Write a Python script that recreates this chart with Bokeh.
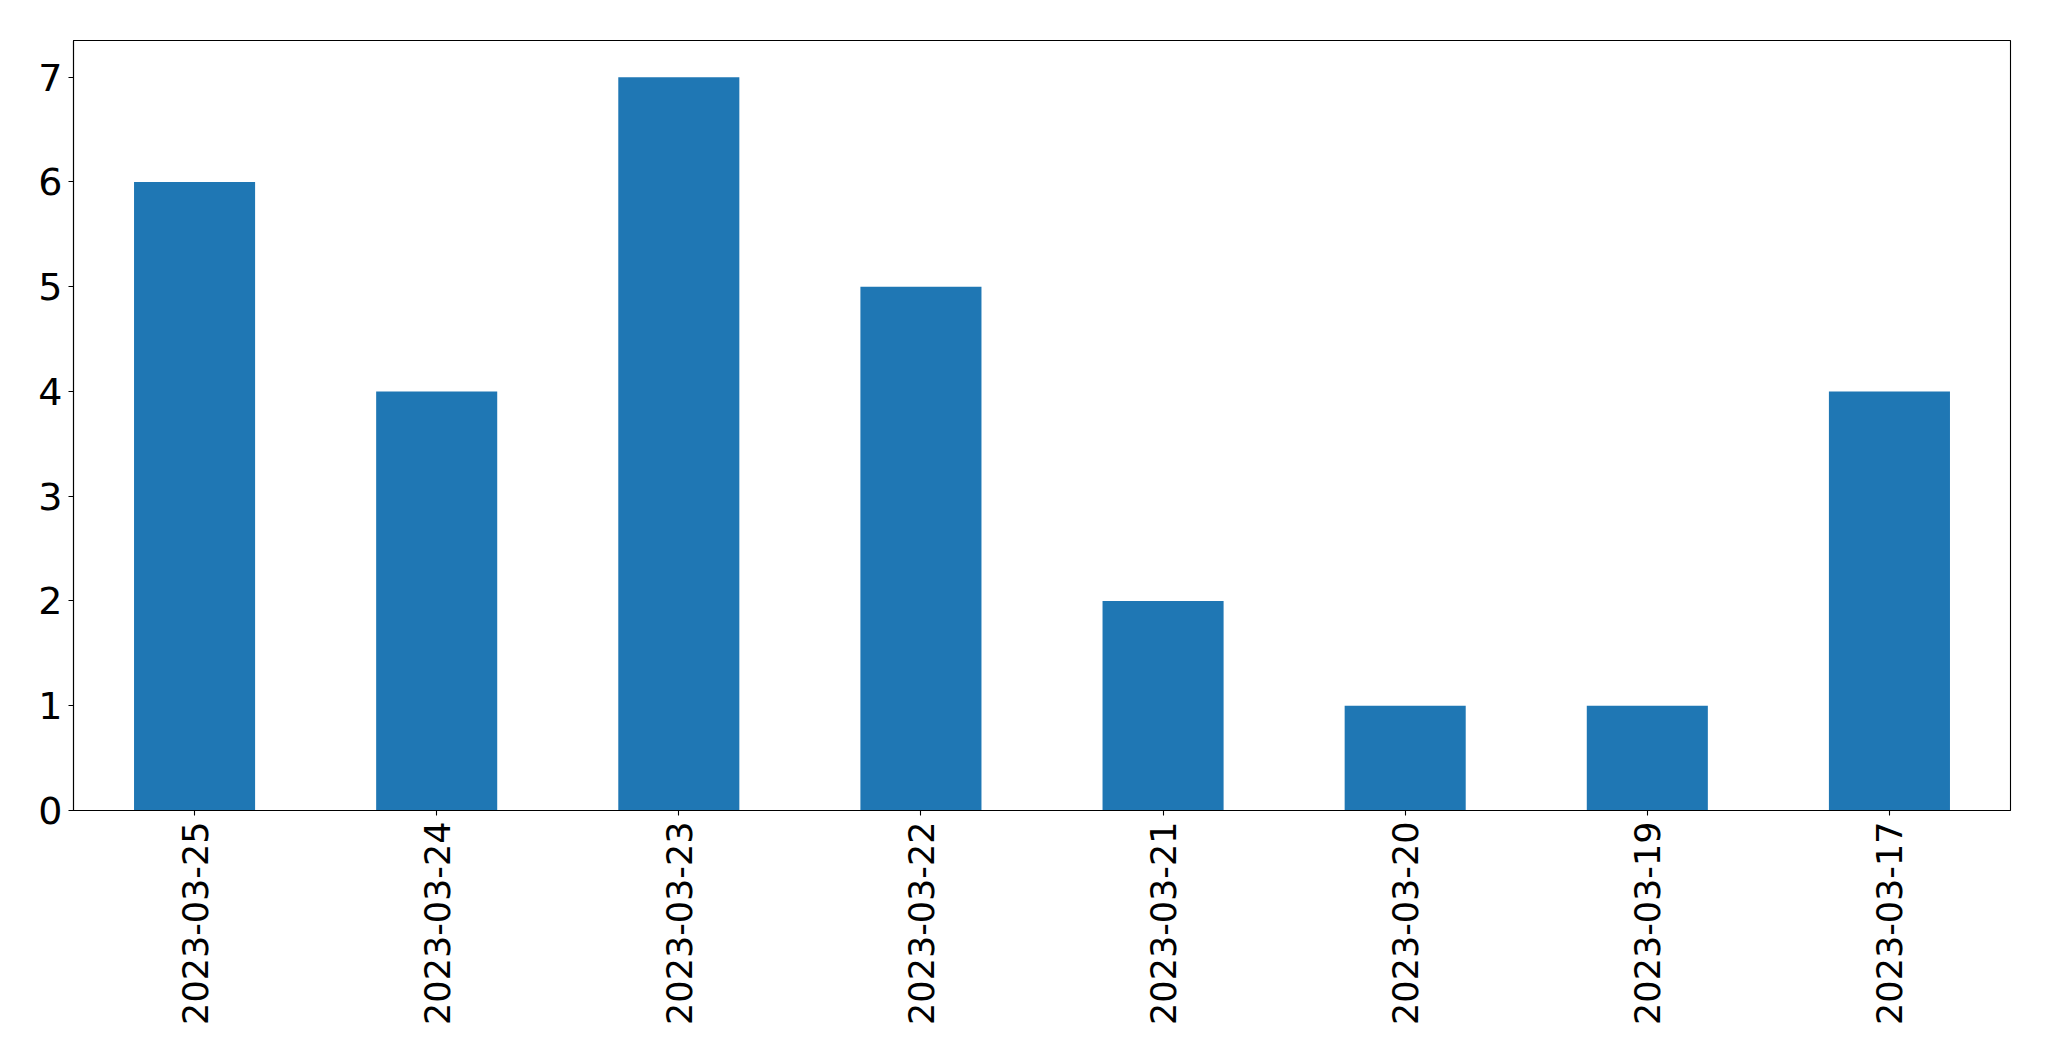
import math
from bokeh.plotting import figure
from bokeh.models import FactorRange, Range1d, FixedTicker
from bokeh.embed import file_html
from bokeh.resources import INLINE

dates = ["2023-03-25", "2023-03-24", "2023-03-23", "2023-03-22",
         "2023-03-21", "2023-03-20", "2023-03-19", "2023-03-17"]
counts = [6, 4, 7, 5, 2, 1, 1, 4]
y_ticks = [0, 1, 2, 3, 4, 5, 6, 7]

p = figure(x_range=FactorRange(*dates), y_range=Range1d(0, 7.35),
           width=2033, height=1045, output_backend="svg", toolbar_location=None,
           min_border_left=73, min_border_right=23, min_border_top=40, min_border_bottom=235)

p.vbar(x=dates, top=counts, width=0.5, color="#1f77b4", line_color=None)

p.xgrid.visible = False
p.ygrid.visible = False
p.outline_line_color = "black"
p.outline_line_width = 1.1
p.outline_line_alpha = 1

for ax in (p.xaxis[0], p.yaxis[0]):
    ax.axis_line_color = "black"
    ax.axis_line_width = 1.1
    ax.major_tick_line_color = "black"
    ax.major_tick_line_width = 1.1
    ax.major_tick_in = 0
    ax.major_tick_out = 5
    ax.minor_tick_line_color = None
    ax.major_label_text_font = "DejaVu Sans"
    ax.major_label_text_color = "black"

p.yaxis.ticker = FixedTicker(ticks=y_ticks)
p.yaxis.major_label_text_font_size = "38px"
p.yaxis.major_label_standoff = 6
p.xaxis.major_label_text_font_size = "35px"
p.xaxis.major_label_orientation = math.pi / 2
p.xaxis.major_label_standoff = 6

open("out.html", "w").write(file_html(p, INLINE))
